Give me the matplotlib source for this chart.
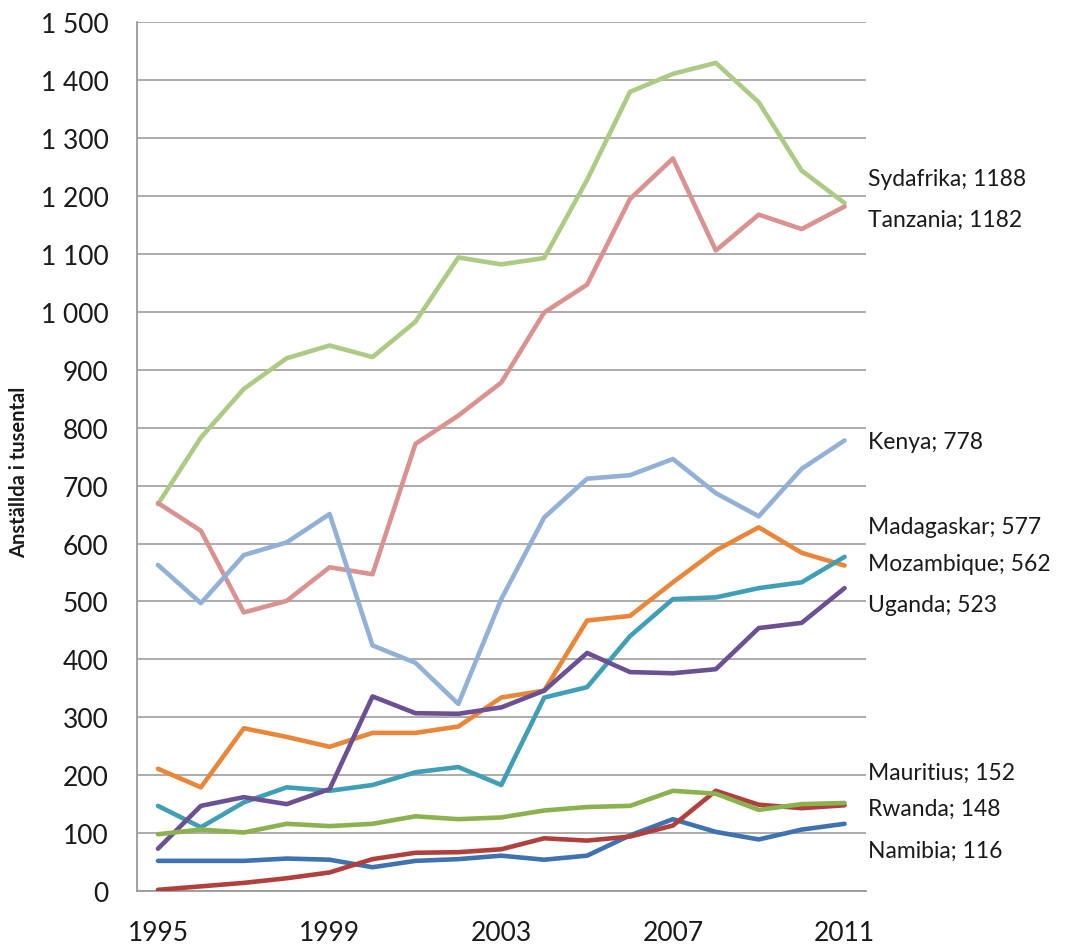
import matplotlib
matplotlib.use("Agg")
import matplotlib.pyplot as plt
from matplotlib.ticker import FuncFormatter, FixedLocator

plt.rcParams['font.family'] = ['Lato', 'DejaVu Sans']

years = list(range(1995, 2012))

sydafrika  = [668, 783, 867, 920, 942, 922, 983, 1094, 1082, 1093, 1228, 1380, 1411, 1430, 1362, 1244, 1188]
tanzania   = [670, 622, 481, 501, 559, 547, 772, 821, 878, 999, 1047, 1195, 1265, 1106, 1168, 1143, 1182]
kenya      = [563, 497, 580, 602, 651, 424, 394, 323, 504, 645, 712, 718, 746, 687, 647, 729, 778]
mozambique = [211, 179, 281, 266, 249, 273, 273, 284, 334, 346, 467, 475, 533, 588, 628, 584, 562]
madagaskar = [147, 110, 153, 179, 173, 183, 205, 214, 183, 334, 352, 440, 504, 507, 523, 533, 577]
uganda     = [73, 147, 162, 150, 176, 336, 307, 306, 317, 346, 411, 378, 376, 383, 454, 463, 523]
mauritius  = [98, 106, 101, 116, 112, 116, 129, 124, 127, 139, 145, 147, 173, 168, 140, 150, 152]
rwanda     = [2, 8, 14, 22, 32, 55, 66, 67, 72, 91, 87, 94, 113, 173, 149, 143, 148]
namibia    = [52, 52, 52, 56, 54, 41, 52, 55, 61, 54, 61, 96, 124, 102, 89, 106, 116]

series_names = ["Sydafrika", "Tanzania", "Kenya", "Madagaskar", "Mozambique",
                "Uganda", "Mauritius", "Rwanda", "Namibia"]
series_values = [sydafrika, tanzania, kenya, madagaskar, mozambique,
                 uganda, mauritius, rwanda, namibia]
colors = ["#AECB85", "#D99290", "#93B1D6", "#409FB5", "#E8873A",
          "#6B5193", "#8CB24F", "#B0403D", "#3F72B0"]
# vertical placement of end labels (data units), avoiding overlap
label_y = [1230, 1159, 777, 630, 565, 494, 205, 142, 71]

x_tick_years = [1995, 1999, 2003, 2007, 2011]
y_ticks = list(range(0, 1501, 100))
ylabel = "Anställda i tusental"

fig = plt.figure(figsize=(10.75, 9.45), dpi=100)
ax = fig.add_axes([0.127, 0.0561, 0.6786, 0.9192])

draw_order = [0, 1, 2, 4, 3, 5, 8, 7, 6]
for i in draw_order:
    ax.plot(years, series_values[i], color=colors[i], lw=3.3,
            solid_joinstyle='round', solid_capstyle='round', zorder=3)

for name, vals, ly in zip(series_names, series_values, label_y):
    ax.text(2011.55, ly, f"{name}; {vals[-1]}", fontsize=16.5,
            color="#1a1a1a", ha="left", va="center", clip_on=False)

ax.set_xlim(1994.5, 2011.5)
ax.set_ylim(0, 1500)
ax.yaxis.set_major_locator(FixedLocator(y_ticks))
ax.xaxis.set_major_locator(FixedLocator(x_tick_years))
ax.yaxis.set_major_formatter(FuncFormatter(lambda v, p: f"{int(v):,}".replace(",", " ")))

ax.grid(axis='y', color="#A6A6A6", lw=1.3, zorder=1)
ax.set_axisbelow(True)
for s in ["top", "right"]:
    ax.spines[s].set_visible(False)
for s in ["left", "bottom"]:
    ax.spines[s].set_color("#9A9A9A")
    ax.spines[s].set_linewidth(1.3)

ax.tick_params(axis='both', length=0, labelsize=19, colors="#1a1a1a")
ax.tick_params(axis='y', pad=20)
ax.tick_params(axis='x', pad=21)

fig.text(0.018, 0.5, ylabel, rotation=90, fontsize=14.5, fontweight='bold',
         ha='center', va='center', color="#1a1a1a")

fig.savefig("out.png", dpi=100, facecolor="white")
